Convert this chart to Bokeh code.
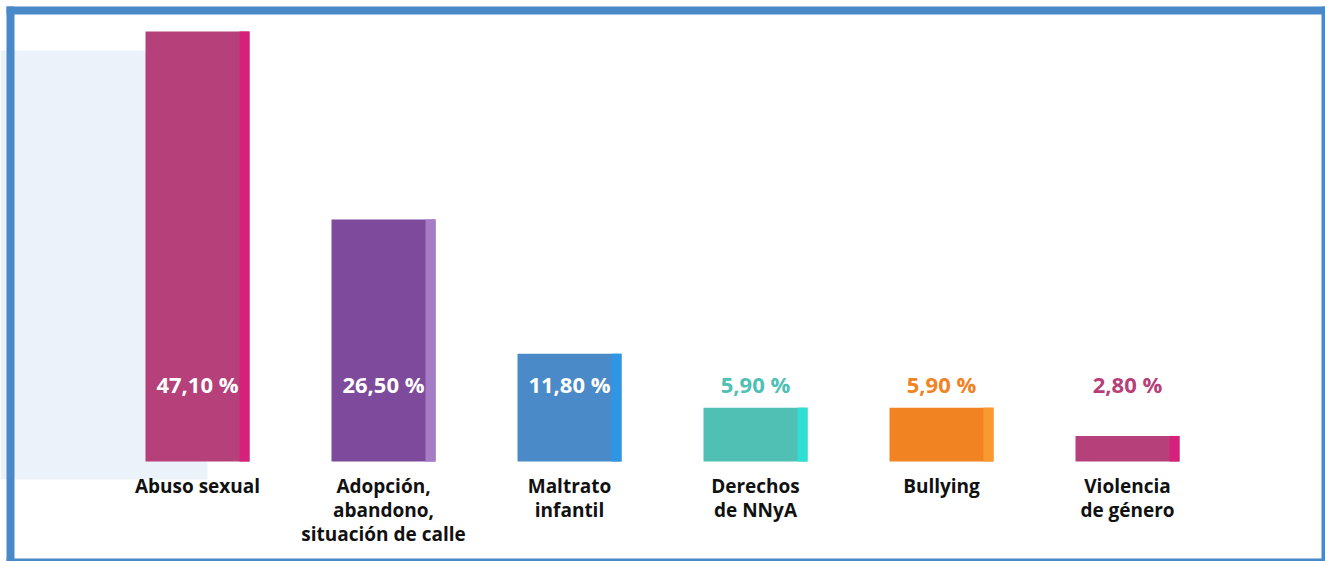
from bokeh.plotting import figure
from bokeh.models import Range1d, ColumnDataSource
from bokeh.core.properties import value
from bokeh.embed import file_html
from bokeh.resources import INLINE

# ---- data ----
categories = ["Abuso sexual", "Adopción,\nabandono,\nsituación de calle", "Maltrato\ninfantil",
              "Derechos\nde NNyA", "Bullying", "Violencia\nde género"]
values = [47.10, 26.50, 11.80, 5.90, 5.90, 2.80]
labels = ["47,10 %", "26,50 %", "11,80 %", "5,90 %", "5,90 %", "2,80 %"]
bar_colors = ["#b5407a", "#7e4a9b", "#4a8ac8", "#50c0b5", "#f28322", "#b5407a"]
stripe_colors = ["#d6207a", "#a77cc6", "#2f96e6", "#2ee0d4", "#f89a30", "#d6207a"]
label_colors = ["#ffffff", "#ffffff", "#ffffff", "#50c0b5", "#f28322", "#b5407a"]

# ---- layout (pixels) ----
W, H = 1325, 561
X0, STEP = 197.0, 186.0      # first bar centre, spacing
Y0, SCALE = 461.0, 9.13      # baseline y (from top), px per percent
BAR_W = 104 / STEP
STRIPE_W = 10 / STEP

def px2x(px):
    return (px - X0) / STEP

def py2y(py):
    return (Y0 - py) / SCALE

p = figure(width=W, height=H, output_backend="svg", toolbar_location=None,
           x_range=Range1d(px2x(0), px2x(W)), y_range=Range1d(py2y(H), py2y(0)),
           min_border=0, min_border_left=0, min_border_right=0, min_border_top=0, min_border_bottom=0,
           background_fill_color="white", border_fill_color="white", outline_line_color=None)
p.xaxis.visible = False
p.yaxis.visible = False
p.xgrid.visible = False
p.ygrid.visible = False

# light background panel
p.quad(left=px2x(0), right=px2x(207), top=py2y(50), bottom=py2y(479),
       fill_color="#ebf2fa", line_color=None)

n = len(values)
xs = list(range(n))
src = ColumnDataSource(dict(
    x=xs, top=values, color=bar_colors, stripe=stripe_colors,
    sx=[x + BAR_W / 2 - STRIPE_W / 2 for x in xs],
    lab=labels, lab_color=label_colors, cat=categories,
    ly=[py2y(383)] * n, cy=[py2y(472)] * n,
))

p.vbar(x="x", top="top", bottom=0, width=BAR_W, fill_color="color", line_color=None, source=src)
p.vbar(x="sx", top="top", bottom=0, width=STRIPE_W, fill_color="stripe", line_color=None, source=src)

p.text(x="x", y="ly", text="lab", text_color="lab_color", source=src,
       text_font=value("Open Sans"), text_font_style="bold", text_font_size="22px",
       text_align="center", text_baseline="middle")

p.text(x="x", y="cy", text="cat", text_color="#111111", source=src,
       text_font=value("Open Sans"), text_font_style="bold", text_font_size="19px",
       text_align="center", text_baseline="top", text_line_height=0.93)

# frame
frame_color = "#4a89c8"
p.quad(left=px2x(6), right=px2x(14), top=py2y(6), bottom=py2y(H), fill_color=frame_color, line_color=None)
p.quad(left=px2x(6), right=px2x(W), top=py2y(6), bottom=py2y(14), fill_color=frame_color, line_color=None)
p.quad(left=px2x(1321), right=px2x(W), top=py2y(6), bottom=py2y(H), fill_color=frame_color, line_color=None)
p.quad(left=px2x(6), right=px2x(W), top=py2y(558), bottom=py2y(H), fill_color=frame_color, line_color=None)

open("out.html", "w").write(file_html(p, INLINE))
